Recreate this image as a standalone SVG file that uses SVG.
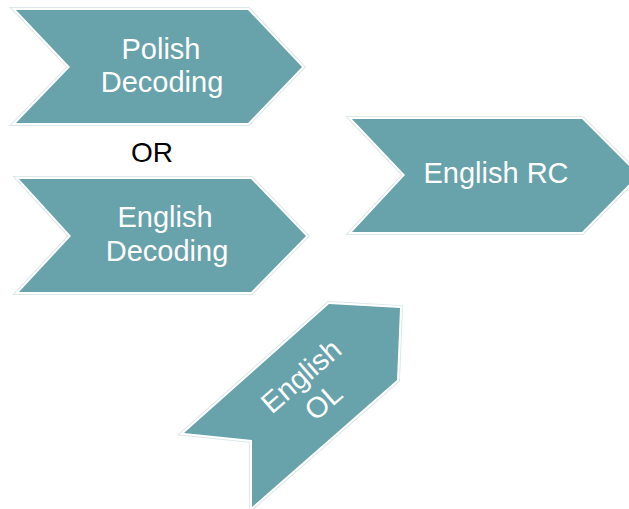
<svg xmlns="http://www.w3.org/2000/svg" xmlns:xlink="http://www.w3.org/1999/xlink" width="629" height="509" viewBox="0 0 629 509">
  <style>
    .halo { fill: none; stroke: #dce8eb; stroke-width: 6; stroke-linejoin: miter; }
    .rim { fill: none; stroke: #ffffff; stroke-width: 4; stroke-linejoin: miter; }
    .body { fill: #68a2ab; stroke: none; }
    .lbl { font-family: "Liberation Sans", Arial, sans-serif; font-size: 29px; fill: #ffffff; text-anchor: middle; }
    .plain { font-family: "Liberation Sans", Arial, sans-serif; font-size: 28px; fill: #000000; text-anchor: middle; }
  </style>
  <defs>
    <polygon id="shape-polish" points="16,10 248,10 302,67 248,123 16,123 70,67"/>
    <polygon id="shape-engdec" points="19,179 251,179 306,236 251,292 19,292 71,236"/>
    <polygon id="shape-rc" points="352,119 582,119 638,175 582,232 352,232 405,175"/>
    <polygon id="shape-ol" points="329,304 400,308 397,380 252,507 252,440 184,433"/>
  </defs>
  <rect width="629" height="509" fill="#ffffff"/>

  <g id="connectors"></g>

  <g id="node-polish-decoding">
    <use href="#shape-polish" xlink:href="#shape-polish" class="halo"/>
    <use href="#shape-polish" xlink:href="#shape-polish" class="rim"/>
    <use href="#shape-polish" xlink:href="#shape-polish" class="body"/>
    <text class="lbl" x="161" y="59">Polish</text>
    <text class="lbl" x="162" y="92">Decoding</text>
  </g>

  <g id="node-or">
    <text class="plain" x="152" y="162">OR</text>
  </g>

  <g id="node-english-decoding">
    <use href="#shape-engdec" xlink:href="#shape-engdec" class="halo"/>
    <use href="#shape-engdec" xlink:href="#shape-engdec" class="rim"/>
    <use href="#shape-engdec" xlink:href="#shape-engdec" class="body"/>
    <text class="lbl" x="165" y="227">English</text>
    <text class="lbl" x="167" y="261">Decoding</text>
  </g>

  <g id="node-english-rc">
    <use href="#shape-rc" xlink:href="#shape-rc" class="halo"/>
    <use href="#shape-rc" xlink:href="#shape-rc" class="rim"/>
    <use href="#shape-rc" xlink:href="#shape-rc" class="body"/>
    <text class="lbl" x="496" y="183">English RC</text>
  </g>

  <g id="node-english-ol">
    <use href="#shape-ol" xlink:href="#shape-ol" class="halo"/>
    <use href="#shape-ol" xlink:href="#shape-ol" class="rim"/>
    <use href="#shape-ol" xlink:href="#shape-ol" class="body"/>
    <g transform="translate(301,376) rotate(-41)">
      <text class="lbl" x="0" y="10">English</text>
      <text class="lbl" x="0" y="44">OL</text>
    </g>
  </g>
</svg>
